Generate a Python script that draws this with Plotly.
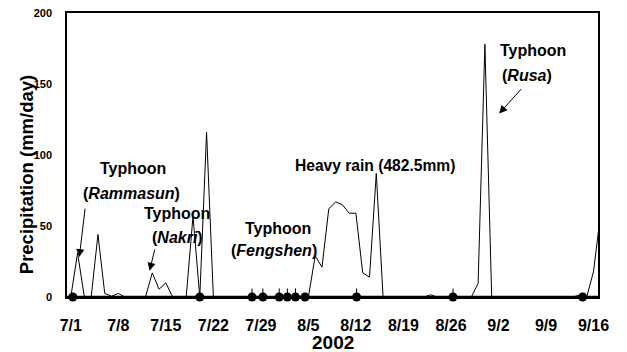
import plotly.graph_objects as go

# Daily precipitation (mm/day), day 0 = 7/1/2002 ... day 77 = 9/16/2002
precip = [
    0, 31, 0, 0, 44, 2.5, 0.5, 2.5, 0, 0,        # 7/1 - 7/10
    0, 0, 17, 5.5, 10, 0, 0, 0, 57, 0,           # 7/11 - 7/20
    116, 0, 0, 0, 0, 0, 0, 0, 0, 0,              # 7/21 - 7/30
    0, 0, 0, 0, 0, 0, 29, 21, 62, 67,            # 7/31 - 8/9
    65, 59, 59, 17, 14, 87, 0, 0, 0, 0,          # 8/10 - 8/19
    0, 0, 0, 1.5, 0, 0, 0, 0, 0, 0,              # 8/20 - 8/29
    9.5, 178, 0, 0, 0, 0, 0, 0, 0, 0,            # 8/30 - 9/8
    0, 0, 0, 0, 0, 1.5, 0, 18, 57,               # 9/9 - 9/16
]
days = list(range(len(precip)))

# Sampling events (day offsets from 7/1)
sample_days = [0.3, 19, 26.7, 28.3, 30.7, 31.9, 33.1, 34.5, 42.1, 56.3, 75.4]
sample_vals = [0] * len(sample_days)
sample_tick = [0, 0, 6, 6, 6, 6, 6, 0, 6, 6, 0]

tick_days = [0, 7, 14, 21, 28, 35, 42, 49, 56, 63, 70, 77]
tick_labels = ["7/1", "7/8", "7/15", "7/22", "7/29", "8/5", "8/12",
               "8/19", "8/26", "9/2", "9/9", "9/16"]

FONT = "Liberation Sans, Arial, sans-serif"
NARROW = "Liberation Sans Narrow, Arial Narrow, Liberation Sans, Arial, sans-serif"

fig = go.Figure()
fig.add_trace(go.Scatter(
    x=days, y=precip, mode="lines",
    line=dict(color="black", width=1), cliponaxis=False, showlegend=False,
))
fig.add_trace(go.Scatter(
    x=sample_days, y=sample_vals, mode="markers",
    marker=dict(color="black", size=9),
    error_y=dict(type="data", symmetric=False, array=sample_tick,
                 arrayminus=[0] * len(sample_days), width=0,
                 color="black", thickness=1),
    cliponaxis=False, showlegend=False,
))

ann = []
def txt(x, y, s, size=16):
    ann.append(dict(x=x, y=y, xref="x", yref="y", text="<b>" + s + "</b>",
                    showarrow=False, font=dict(family=FONT, size=size, color="black")))
def arrow(x0, y0, x1, y1):
    ann.append(dict(x=x1, y=y1, ax=x0, ay=y0, xref="x", yref="y", axref="x", ayref="y",
                    text="", showarrow=True, arrowhead=2, arrowsize=1.6,
                    arrowwidth=1, arrowcolor="black"))

txt(9.2, 90.7, "Typhoon")
txt(9.0, 73.2, "(<i>Rammasun</i>)")
arrow(2.13, 63.3, 1.25, 28.1)
txt(15.63, 59.1, "Typhoon")
txt(15.74, 42.2, "(<i>Nakri</i>)")
arrow(12.43, 34.5, 11.6, 18.5)
txt(30.53, 48.5, "Typhoon")
txt(29.94, 33.1, "(<i>Fengshen</i>)")
txt(44.88, 92.9, "Heavy rain (482.5mm)", size=15.6)
txt(68.05, 173.8, "Typhoon")
txt(67.13, 156.2, "(<i>Rusa</i>)")
arrow(66.54, 147.5, 63.1, 129.2)

ann.append(dict(x=0.5, y=0, xref="paper", yref="paper", yshift=-45,
                text="<b>2002</b>", showarrow=False, xanchor="center", yanchor="middle",
                font=dict(family=NARROW, size=19, color="black")))
ann.append(dict(x=-0.0747, y=0.43, xref="paper", yref="paper", textangle=-90,
                xanchor="center", yanchor="middle",
                text="<b>Precipitation (mm/day)</b>", showarrow=False,
                font=dict(family=FONT, size=18.5, color="black")))

fig.update_layout(
    width=627, height=352,
    margin=dict(l=67, r=29, t=13, b=55),
    paper_bgcolor="white", plot_bgcolor="white",
    annotations=ann,
    xaxis=dict(range=[-0.56, 77.66], tickvals=tick_days,
               ticktext=["<b>" + t + "</b>" for t in tick_labels],
               showgrid=False, zeroline=False, showline=True, mirror=True,
               linecolor="black", linewidth=1.5, automargin=False,
               ticks="outside", ticklen=13, tickcolor="rgba(0,0,0,0)",
               tickfont=dict(family=NARROW, size=16, color="black")),
    yaxis=dict(range=[0, 200], tickvals=[0, 50, 100, 150, 200],
               ticktext=["<b>0</b>", "<b>50</b>", "<b>100</b>", "<b>150</b>", "<b>200</b>"],
               showgrid=False, zeroline=False, showline=True, mirror=True,
               linecolor="black", linewidth=1.5, automargin=False,
               ticks="outside", ticklen=11, tickcolor="rgba(0,0,0,0)",
               tickfont=dict(family=FONT, size=11, color="black")),
)
fig.add_shape(type="line", xref="paper", yref="paper", x0=0, x1=1, y0=0, y1=0,
              line=dict(color="black", width=2.5))

fig.write_html("out.html")
